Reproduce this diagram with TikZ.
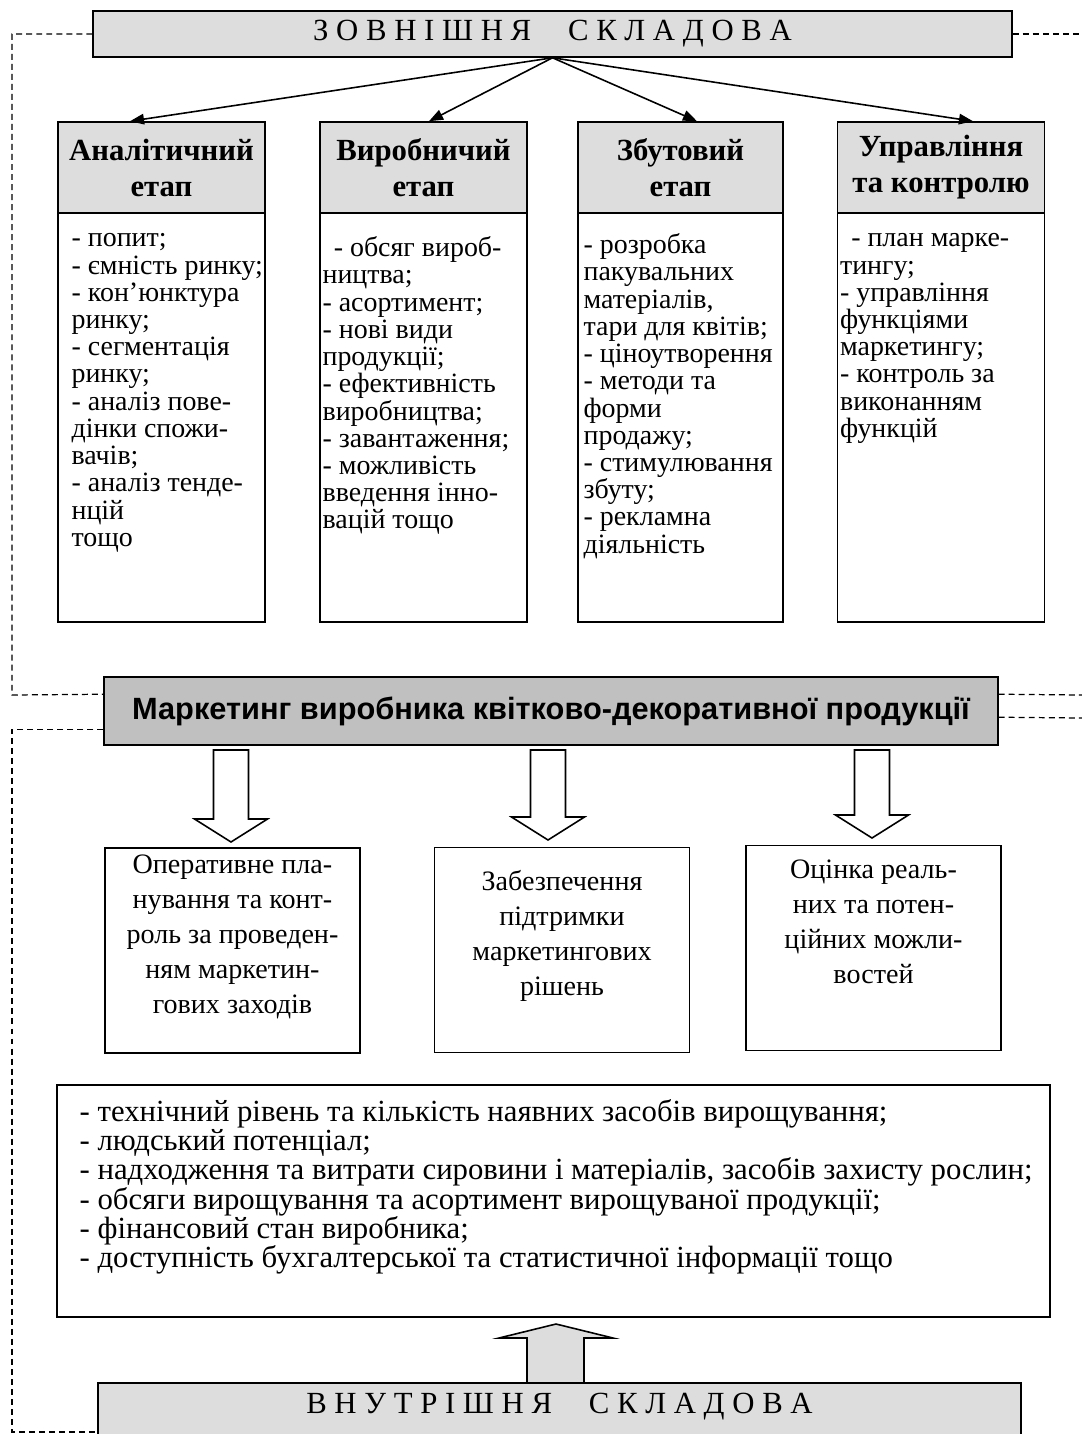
\documentclass[tikz,border=0pt]{standalone}
\usepackage{fontspec}
\setmainfont{Liberation Serif}
\setsansfont{Liberation Sans}
\usepackage{tikz}
\usetikzlibrary{positioning,calc,arrows.meta}
\definecolor{boxgray}{HTML}{DDDDDD}
\definecolor{mkgray}{HTML}{C0C0C0}
\newcommand\tightlines{\lineskiplimit-20pt\relax}

\begin{document}
\begin{tikzpicture}[x=0.02cm, y=-0.02cm,
    frame/.style={draw, line width=0.9pt},
    grayframe/.style={frame, fill=boxgray},
    headbox/.style={grayframe, minimum width=4.14cm, minimum height=1.82cm, align=center, font=\fontsize{17.5}{20.5}\selectfont\bfseries},
    bodybox/.style={frame, minimum width=4.14cm, minimum height=8.18cm},
    colitems/.style={anchor=north west, inner sep=0pt, align=left, font=\fontsize{15.9}{15.5}\selectfont\tightlines},
    lowbox/.style={frame, minimum width=5.1cm, minimum height=4.1cm},
    lowtext/.style={anchor=north, inner sep=0pt, align=center, font=\fontsize{16}{19.9}\selectfont},
    arr/.style={-{Triangle[length=8pt,width=6pt]}, line width=0.9pt},
    dashline/.style={line width=0.7pt, dash pattern=on 3.4pt off 2.3pt},
    hollow/.style={line width=0.9pt, fill=white}
  ]
  \clip (0,0) rectangle (1082,1434);

  % outer part
  \node[grayframe, minimum width=18.38cm, minimum height=0.92cm, font=\fontsize{17.5}{19}\selectfont] (zovn) at (552.5,34) {З О В Н І Ш Н Я\hspace{1.2em}С К Л А Д О В А};

  % four stages
  \node[headbox] (h1) at (161.5,167.5) {Аналітичний\\етап};
  \node[headbox] (h2) at (423.5,167.5) {Виробничий\\етап};
  \node[headbox, minimum width=4.1cm] (h3) at (680.5,167.5) {Збутовий\\етап};
  \node[headbox] (h4) at (941,167.5) {Управління\\та контролю};

  \node[bodybox] (b1) at (161.5,417.5) {};
  \node[bodybox] (b2) at (423.5,417.5) {};
  \node[bodybox, minimum width=4.1cm] (b3) at (680.5,417.5) {};
  \node[bodybox] (b4) at (941,417.5) {};

  \node[colitems] (t1) at ($(b1.north west)+(14,21)$) {- попит;\\- ємність ринку;\\- кон’юнктура\\ринку;\\- сегментація\\ринку;\\- аналіз пове-\\дінки спожи-\\вачів;\\- аналіз тенде-\\нцій\\тощо};
  \node[colitems] (t2) at ($(b2.north west)+(3,24)$) {\hspace*{0.4em}- обсяг вироб-\\ництва;\\- асортимент;\\- нові види\\продукції;\\- ефективність\\виробництва;\\- завантаження;\\- можливість\\введення інно-\\вацій тощо};
  \node[colitems] (t3) at ($(b3.north west)+(6,21)$) {- розробка\\пакувальних\\матеріалів,\\тари для квітів;\\- ціноутворення\\- методи та\\форми\\продажу;\\- стимулювання\\збуту;\\- рекламна\\діяльність};
  \node[colitems] (t4) at ($(b4.north west)+(3,21)$) {\hspace*{0.4em}- план марке-\\тингу;\\- управління\\функціями\\маркетингу;\\- контроль за\\виконанням\\функцій};

  \draw[arr] (zovn.south) -- ($(h1.north)+(-31.5,0)$);
  \draw[arr] (zovn.south) -- ($(h2.north)+(5.5,0)$);
  \draw[arr] (zovn.south) -- ($(h3.north)+(16.5,0)$);
  \draw[arr] (zovn.south) -- ($(h4.north)+(32,0)$);

  % marketing
  \node[frame, fill=mkgray, minimum width=17.88cm, minimum height=1.36cm, font=\sffamily\bfseries\fontsize{17.5}{20}\selectfont] (mk) at (551,711) {Маркетинг виробника квітково-декоративної продукції};

  \foreach \cx/\tip in {231/842, 548/840, 872/838}
    \draw[hollow] (\cx-17.5,750) -- (\cx+17.5,750) -- (\cx+17.5,\tip-23) -- (\cx+36.5,\tip-23) -- (\cx,\tip) -- (\cx-36.5,\tip-23) -- (\cx-17.5,\tip-23) -- cycle;

  \node[lowbox] (ba) at (232.5,950.5) {};
  \node[lowbox] (bb) at (562,950) {};
  \node[lowbox] (bc) at (873.5,948) {};
  \node[lowtext] (ta) at ($(ba.north)+(0,7)$) {Оперативне пла-\\нування та конт-\\роль за проведен-\\ням маркетин-\\гових заходів};
  \node[lowtext] (tb) at ($(bb.north)+(0,23)$) {Забезпечення\\підтримки\\маркетингових\\рішень};
  \node[lowtext] (tc) at ($(bc.north)+(0,15)$) {Оцінка реаль-\\них та потен-\\ційних можли-\\востей};

  % inner part
  \node[frame, minimum width=19.86cm, minimum height=4.64cm] (factors) at (553.5,1201) {};
  \node[anchor=north west, inner sep=0pt, align=left, font=\fontsize{17.5}{16.6}\selectfont\tightlines] (factxt) at ($(factors.north west)+(23,15)$) {- технічний рівень та кількість наявних засобів вирощування;\\- людський потенціал;\\- надходження та витрати сировини і матеріалів, засобів захисту рослин;\\- обсяги вирощування та асортимент вирощуваної продукції;\\- фінансовий стан виробника;\\- доступність бухгалтерської та статистичної інформації тощо};

  \draw[hollow, fill=boxgray] (527,1383) -- (527,1338) -- (499,1338) -- (556,1324) -- (613,1338) -- (584,1338) -- (584,1383) -- cycle;

  \node[grayframe, minimum width=18.46cm, minimum height=1.96cm] (vnutr) at (559.5,1432) {};
  \node[font=\fontsize{17.5}{19}\selectfont] (vnutrtxt) at (559.5,1407) {В Н У Т Р І Ш Н Я\hspace{1.2em}С К Л А Д О В А};

  % dashed links
  \draw[dashline] (zovn.west) -| (12,695) -- ($(mk.north west)+(0,18)$);
  \draw[dashline] (zovn.east) -- (1082,34);
  \draw[dashline] ($(mk.north east)+(0,18)$) -- (1082,695);
  \draw[dashline] ($(mk.north east)+(0,41)$) -- (1082,718);
  \draw[dashline] ($(mk.north west)+(0,53)$) -| (12,1432) -- (vnutr.west);
\end{tikzpicture}
\end{document}
